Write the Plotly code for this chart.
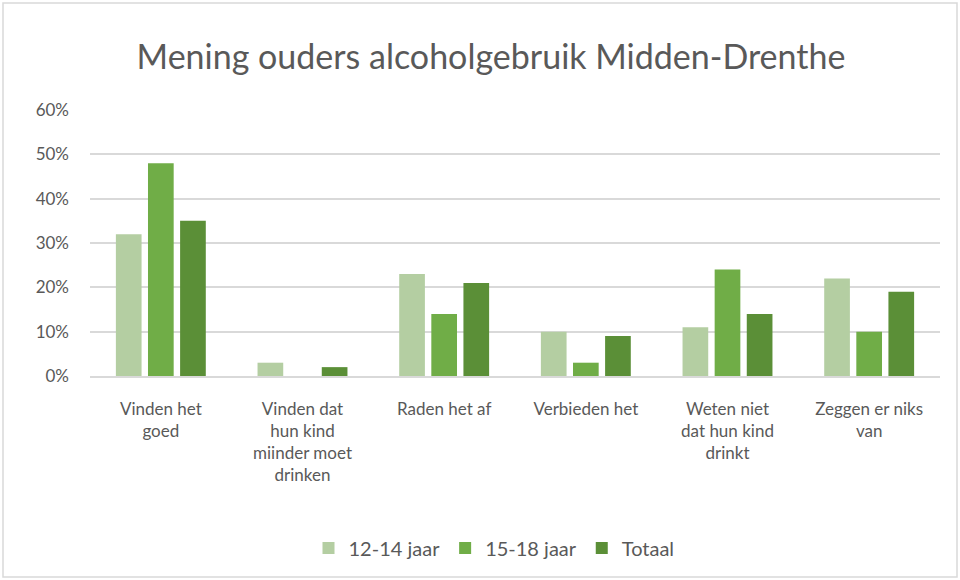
import plotly.graph_objects as go

categories = ["Vinden het<br>goed", "Vinden dat<br>hun kind<br>miinder moet<br>drinken", "Raden het af",
              "Verbieden het", "Weten niet<br>dat hun kind<br>drinkt", "Zeggen er niks<br>van"]
series_names = ["12-14 jaar", "15-18 jaar", "Totaal"]
v_12_14 = [0.32, 0.03, 0.23, 0.10, 0.11, 0.22]
v_15_18 = [0.48, 0.00, 0.14, 0.03, 0.24, 0.10]
v_totaal = [0.35, 0.02, 0.21, 0.09, 0.14, 0.19]
colors = ["#b4cea2", "#70ad47", "#5b8f37"]
tick_vals = [0, 0.1, 0.2, 0.3, 0.4, 0.5, 0.6]

FONT = "Lato"
TXT = "#595959"

fig = go.Figure()
for name, vals, c in zip(series_names, [v_12_14, v_15_18, v_totaal], colors):
    fig.add_trace(go.Bar(name=name, x=categories, y=vals, marker_color=c, marker_line_width=0))

W, H = 960, 580
L, T, R, B = 90, 110, 20, 204
pw, ph = W - L - R, H - T - B

fig.update_layout(
    width=W, height=H,
    margin=dict(l=L, r=R, t=T, b=B, autoexpand=False),
    paper_bgcolor="white", plot_bgcolor="white",
    barmode="group", bargap=0.32, bargroupgap=0.2,
    font=dict(family=FONT, color=TXT, size=17),
    title=dict(text="Mening ouders alcoholgebruik Midden-Drenthe", x=491 / W, xanchor="center",
               y=1 - 57 / H, yanchor="middle", font=dict(size=34, color=TXT, family=FONT)),
    legend=dict(orientation="h", x=(494 - L) / pw, xanchor="center",
                y=-(548 - 376) / ph, yanchor="middle",
                font=dict(size=20, color=TXT), traceorder="normal", itemwidth=30),
    showlegend=True,
)
fig.update_yaxes(range=[0, 0.6], tickvals=tick_vals, tickformat=".0%", showgrid=True, gridcolor="#d9d9d9",
                 gridwidth=1.5, zeroline=False, showline=False, ticks="", tickfont=dict(size=17, color=TXT),
                 ticklabelstandoff=20)
fig.update_xaxes(showline=True, linecolor="#d9d9d9", linewidth=1.5, ticks="", tickangle=0,
                 tickfont=dict(size=17, color=TXT), ticklabelstandoff=17)
fig.add_shape(type="rect", xref="paper", yref="paper",
              x0=(3 - L) / pw, x1=(957 - L) / pw, y0=(H - B - 577) / ph, y1=(H - B - 3) / ph,
              line=dict(color="#d9d9d9", width=1.5), fillcolor="rgba(0,0,0,0)", layer="below")
fig.write_html("out.html", post_script="document.body.style.margin='0';",
               config={"displayModeBar": False})
